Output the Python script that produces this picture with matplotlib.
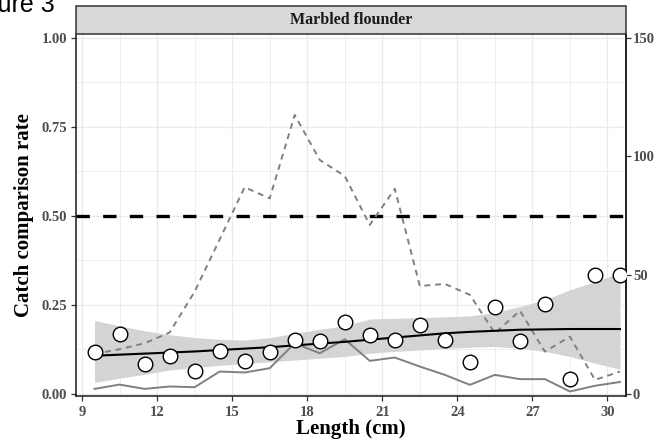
import numpy as np
import matplotlib.pyplot as plt
from matplotlib.patches import Rectangle

# length classes (cm)
length = [9.5, 10.5, 11.5, 12.5, 13.5, 14.5, 15.5, 16.5, 17.5, 18.5, 19.5,
          20.5, 21.5, 22.5, 23.5, 24.5, 25.5, 26.5, 27.5, 28.5, 29.5, 30.5]
# observed catch comparison rate
obs_rate = [0.118, 0.167, 0.084, 0.105, 0.064, 0.121, 0.093, 0.118, 0.151, 0.147, 0.202,
            0.165, 0.150, 0.194, 0.150, 0.089, 0.243, 0.147, 0.252, 0.041, 0.334, 0.334]
# modelled rate and 95% band
fit_rate = [0.107, 0.110, 0.113, 0.116, 0.119, 0.123, 0.127, 0.131, 0.136, 0.141, 0.146,
            0.152, 0.158, 0.164, 0.170, 0.174, 0.177, 0.180, 0.181, 0.182, 0.182, 0.182]
fit_low = [0.032, 0.044, 0.055, 0.067, 0.074, 0.080, 0.085, 0.090, 0.095, 0.100, 0.105,
           0.114, 0.119, 0.123, 0.127, 0.131, 0.133, 0.128, 0.119, 0.105, 0.086, 0.069]
fit_high = [0.206, 0.191, 0.177, 0.166, 0.158, 0.153, 0.151, 0.158, 0.170, 0.181, 0.191,
            0.210, 0.212, 0.214, 0.216, 0.219, 0.228, 0.245, 0.264, 0.292, 0.315, 0.340]
# numbers caught (right axis)
catch_a = [16.8, 18.8, 21.3, 25.8, 43.0, 65.0, 87.0, 82.3, 117.4, 98.5, 91.7,
           71.1, 86.3, 45.4, 46.3, 41.7, 25.5, 35.0, 17.8, 24.1, 5.9, 9.4]
catch_b = [2.1, 3.9, 2.1, 3.1, 2.8, 9.4, 9.0, 10.8, 21.3, 17.1, 23.0,
           13.9, 15.3, 11.5, 8.0, 3.8, 8.0, 6.2, 6.2, 1.0, 3.4, 5.0]
SEC = 150  # right axis max

x_ticks = [9, 12, 15, 18, 21, 24, 27, 30]
y_ticks = [0.0, 0.25, 0.5, 0.75, 1.0]
sec_ticks = [0, 50, 100, 150]

serif = 'Liberation Serif'
tick_col = '#4d4d4d'

fig = plt.figure(figsize=(6.56, 4.41), dpi=100)
ax = fig.add_axes([76 / 656, 1 - 396 / 441, 550 / 656, 362 / 441])

ax.fill_between(length, fit_low, fit_high, color='#d4d4d4', lw=0, zorder=2)
ax.axhline(0.5, color='black', lw=2.4, ls=(0, (4, 4)), zorder=3)
ax.plot(length, np.array(catch_a) / SEC, color='#808080', lw=1.4, ls=(0, (3, 2.5)), zorder=4)
ax.plot(length, np.array(catch_b) / SEC, color='#808080', lw=1.4, zorder=4)
ax.plot(length, fit_rate, color='black', lw=1.5, zorder=5)
ax.plot(length, obs_rate, 'o', ms=10.5, mfc='white', mec='black', mew=1.0, zorder=6)

ax.set_xlim(8.76, 30.74)
ax.set_ylim(-0.006, 1.01)
ax.set_xticks(x_ticks)
ax.set_xticks(np.arange(10.5, 31, 3), minor=True)
ax.set_yticks(y_ticks)
ax.set_yticklabels(['0.00', '0.25', '0.50', '0.75', '1.00'])
ax.set_yticks([0.125, 0.375, 0.625, 0.875], minor=True)
ax.grid(which='major', color='#ebebeb', lw=1.0, zorder=0)
ax.grid(which='minor', color='#ebebeb', lw=0.6, zorder=0)
ax.set_axisbelow(True)
ax.tick_params(which='minor', length=0)
ax.tick_params(which='major', length=3.5, width=0.9, color='#333333',
               labelsize=10.5, labelcolor=tick_col)
ax.tick_params(axis='y', pad=3)
for lab in ax.get_xticklabels() + ax.get_yticklabels():
    lab.set_family(serif)
    lab.set_fontweight('bold')

for side in ['left', 'bottom', 'right']:
    ax.spines[side].set_color('#1a1a1a')
    ax.spines[side].set_linewidth(1.1)
ax.spines['top'].set_visible(False)

sec = ax.secondary_yaxis('right', functions=(lambda v: v * SEC, lambda v: v / SEC))
sec.set_yticks(sec_ticks)
sec.tick_params(length=3.5, width=0.9, color='#333333', labelsize=10.5,
                labelcolor=tick_col, pad=1.5)
sec.spines['right'].set_color('#1a1a1a')
sec.spines['right'].set_linewidth(1.1)
for lab in sec.get_yticklabels():
    lab.set_family(serif)
    lab.set_fontweight('bold')

ax.set_xlabel('Length (cm)', family=serif, fontweight='bold', fontsize=15, labelpad=0)
ax.set_ylabel('Catch comparison rate', family=serif, fontweight='bold', fontsize=15, labelpad=5)

# facet strip
fig.patches.append(Rectangle((76 / 656, 1 - 34 / 441), 550 / 656, 28 / 441,
                             transform=fig.transFigure, facecolor='#d9d9d9',
                             edgecolor='#333333', lw=1.1))
fig.text(351 / 656, 1 - 20 / 441, 'Marbled flounder', family=serif, fontweight='bold',
         fontsize=11.5, color='#1a1a1a', ha='center', va='center')

fig.text(55 / 656, 1 - 12 / 441, 'Figure 3', family='Liberation Sans', fontsize=18,
         ha='right', va='baseline')

fig.savefig('out.png', dpi=100)
